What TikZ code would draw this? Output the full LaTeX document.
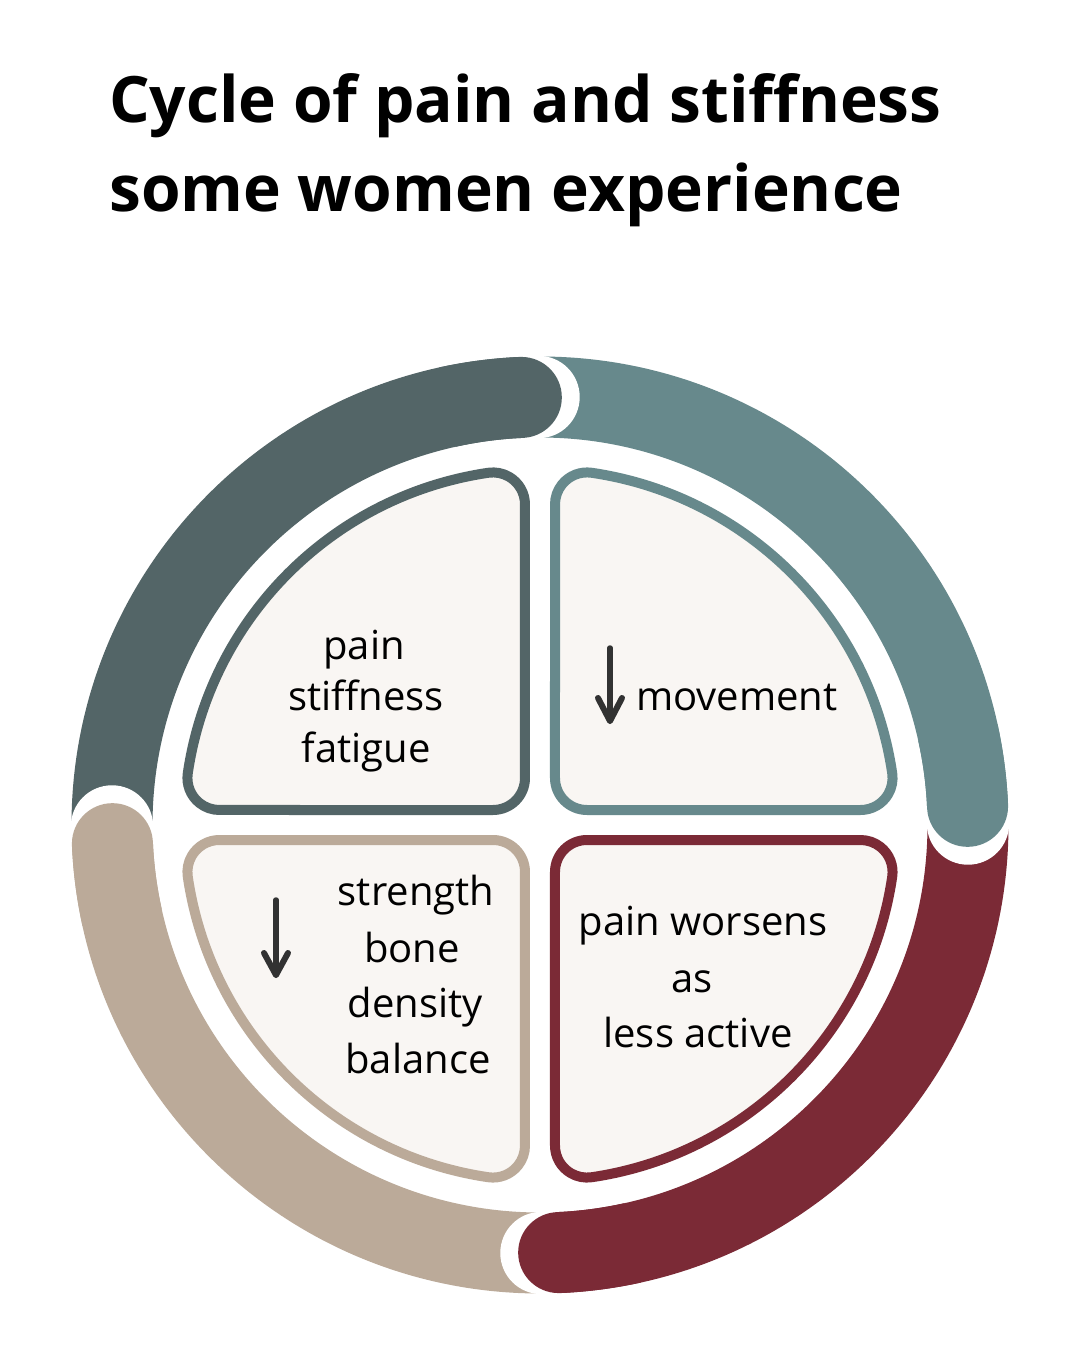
\documentclass[tikz,border=0pt]{standalone}
\usepackage{fontspec}
\setmainfont{Open Sans}
\definecolor{darkslate}{RGB}{83,101,103}
\definecolor{tealseg}{RGB}{103,137,140}
\definecolor{maroonseg}{RGB}{123,42,54}
\definecolor{beigeseg}{RGB}{187,170,153}
\definecolor{boxfill}{RGB}{249,246,243}
\definecolor{arrowgray}{RGB}{50,50,50}
\begin{document}
\begin{tikzpicture}[x=1pt,y=1pt,
  ringseg/.style={line width=81pt, line cap=butt},
  quad/.style={line width=10pt, fill=boxfill, line join=round},
  bodytext/.style={font=\fontsize{40}{48}\selectfont, inner sep=0pt, anchor=base},
  titletext/.style={font=\fontsize{64}{78}\selectfont\bfseries, inner sep=0pt, anchor=base west},
  downarrow/.style={draw=arrowgray, line width=5.5pt, line cap=round, line join=round}]
\useasboundingbox (-540,-525) rectangle (540,825);
\fill[white] (-540,-525) rectangle (540,825);

% ---------- title ----------
\node[titletext] (title1) at (-431,702) {Cycle of pain and stiffness};
\node[titletext] (title2) at (-431,613) {some women experience};

% ---------- ring segments ----------
\def\Rm{428}
\draw[ringseg, darkslate] (180.2:\Rm) arc[start angle=180.2, end angle=92.5, radius=\Rm];
\draw[ringseg, tealseg] (90.2:\Rm) arc[start angle=90.2, end angle=2.5, radius=\Rm];
\draw[ringseg, maroonseg] (0.2:\Rm) arc[start angle=0.2, end angle=-87.5, radius=\Rm];
\draw[ringseg, beigeseg] (-89.8:\Rm) arc[start angle=-89.8, end angle=-177.5, radius=\Rm];
% notches
\foreach \a in {180.2,90.2,0.2,-89.8} \fill[white] (\a:\Rm) circle[radius=41.2];
% round heads
\foreach \e/\c in {92.5/darkslate,2.5/tealseg,-87.5/maroonseg,-177.5/beigeseg}{
  \draw[ringseg, \c] (\e+10:\Rm) arc[start angle=\e+10, end angle=\e, radius=\Rm];
  \fill[\c] (\e:\Rm) circle[radius=40.5];
}

% ---------- quadrant boxes ----------
\def\dd{15}\def\rr{32}\def\RR{356}
\pgfmathsetmacro{\qa}{100*sqrt(((\RR-\rr)/100)^2-((\dd+\rr)/100)^2)}
\pgfmathsetmacro{\tq}{atan((\dd+\rr)/\qa)}
\pgfmathsetmacro{\phiA}{90+\tq}
\pgfmathsetmacro{\psiA}{180-\tq}
\foreach \rot/\c in {0/darkslate,-90/tealseg,-180/maroonseg,90/beigeseg}{
  \begin{scope}[rotate=\rot]
  \draw[quad, draw=\c] (-\dd,\dd+\rr) -- (-\dd,\qa)
    arc[start angle=0, end angle=\phiA, radius=\rr]
    arc[start angle=\phiA, end angle=\psiA, radius=\RR]
    arc[start angle=\psiA, end angle=270, radius=\rr]
    -- (-\dd-\rr,\dd)
    arc[start angle=270, end angle=360, radius=\rr] -- cycle;
  \end{scope}
}

% ---------- texts ----------
\node[bodytext] (tl1) at (-176,165) {pain};
\node[bodytext] (tl2) at (-174,115) {stiffness};
\node[bodytext] (tl3) at (-174,63) {fatigue};

\node[bodytext, anchor=base west] (tr1) at (96,115) {movement};

\node[bodytext] (bl1) at (-124,-80) {strength};
\node[bodytext] (bl2) at (-128,-137) {bone};
\node[bodytext] (bl3) at (-125,-192) {density};
\node[bodytext] (bl4) at (-122,-248) {balance};

\node[bodytext] (br1) at (163,-110) {pain worsens};
\node[bodytext] (br2) at (152,-167) {as};
\node[bodytext] (br3) at (158,-222) {less active};

% ---------- down arrows ----------
\coordinate (a1top) at (70,177);
\coordinate (a1tip) at (70,104);
\coordinate (a1l) at (58,127);
\coordinate (a1r) at (82,127);
\draw[downarrow] (a1top) -- (a1tip);
\draw[downarrow, line width=6pt] (a1l) -- (a1tip) -- (a1r);

\coordinate (a2top) at (-264,-75);
\coordinate (a2tip) at (-264,-150);
\coordinate (a2l) at (-276,-128);
\coordinate (a2r) at (-252,-128);
\draw[downarrow] (a2top) -- (a2tip);
\draw[downarrow, line width=6pt] (a2l) -- (a2tip) -- (a2r);
\end{tikzpicture}
\end{document}
